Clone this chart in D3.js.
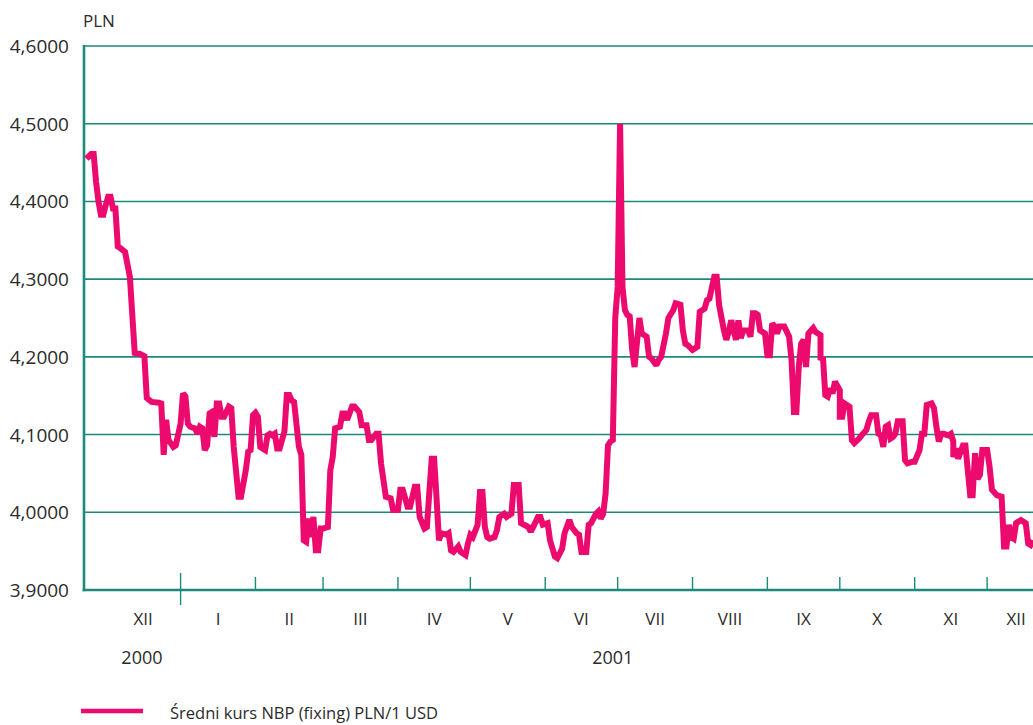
<!DOCTYPE html>
<html>
<head>
<meta charset="utf-8">
<script src="https://cdn.jsdelivr.net/npm/d3@7"></script>
<style>
  body { margin: 0; background: #fff; }
  text { font-family: "Open Sans", "Noto Sans", sans-serif; fill: #2b2b2b; }
</style>
</head>
<body>
<svg id="chart" width="1033" height="725"></svg>
<script>

// days relative to 1 Jan 2001 (negative = XI/XII 2000)
var days = [
 -39,-37,-36,-35,-34,-33,-32,-31,-30,-29,-28,-27,-26,-25,-23,-21,-19,-17,-15,-14,
 -12,-9,-8,-7,-6,-5,-3,-2,0,1,2,3,4,6,7,8,9,10,11,12,
 13,14,15,16,17,18,20,21,22,24,25,27,28,29,30,31,32,33,35,36,
 37,38,39,40,41,43,44,45,46,47,49,50,51,52,53,54,55,56,57,58,
 59,61,62,63,64,66,67,68,69,71,72,74,75,77,78,79,81,82,83,85,
 87,88,90,91,92,94,95,97,98,99,101,102,104,105,106,107,108,110,111,112,
 113,115,116,118,119,120,121,123,124,125,126,127,128,130,131,132,134,135,137,138,
 140,141,144,145,146,148,149,150,152,153,155,156,158,159,161,162,164,165,166,168,
 169,170,172,173,174,175,176,177,178,179,180,181,182,183,184,185,186,187,188,190,
 191,193,194,195,197,198,199,201,202,204,205,207,208,209,210,212,214,215,217,218,
 219,221,222,223,225,226,227,228,230,231,232,233,235,236,237,238,239,240,242,243,
 244,245,246,247,248,250,252,253,254,255,256,257,258,259,260,262,263,265,265,266,
 267,268,269,270,271,273,273,274,275,277,278,279,281,282,284,285,286,288,289,290,
 291,292,293,294,295,296,297,299,300,301,303,304,306,307,308,309,311,312,313,314,
 315,316,318,319,320,320,321,322,324,325,327,328,329,330,331,332,334,335,336,338,
 340,341,342,343,344,345,346,348,350,351,352,353
];

// Średni kurs NBP (fixing) PLN/1 USD
var rate = [
 4.455,4.461,4.461,4.425,4.400,4.383,4.383,4.395,4.406,4.406,4.391,4.391,4.342,4.340,4.335,4.303,4.205,4.204,4.201,4.147,
 4.142,4.141,4.140,4.074,4.119,4.093,4.084,4.086,4.114,4.153,4.149,4.114,4.110,4.108,4.101,4.110,4.108,4.080,4.086,4.127,
 4.129,4.097,4.140,4.140,4.123,4.123,4.136,4.134,4.084,4.020,4.020,4.054,4.078,4.080,4.125,4.128,4.123,4.084,4.080,4.099,
 4.101,4.099,4.101,4.082,4.082,4.104,4.151,4.151,4.144,4.142,4.084,4.074,3.964,3.962,3.992,3.968,3.994,3.951,3.951,3.979,
 3.979,3.981,4.054,4.071,4.108,4.110,4.127,4.127,4.119,4.136,4.136,4.129,4.112,4.112,4.093,4.093,4.101,4.101,4.063,4.020,
 4.018,4.003,4.003,4.029,4.029,4.007,4.007,4.033,4.033,3.994,3.979,3.981,4.069,4.069,4.018,3.964,3.973,3.971,3.973,3.951,
 3.949,3.956,3.949,3.945,3.960,3.971,3.968,3.984,4.026,4.026,3.981,3.968,3.966,3.968,3.977,3.994,3.998,3.994,3.998,4.035,
 4.035,3.986,3.981,3.975,3.981,3.994,3.994,3.984,3.986,3.964,3.943,3.941,3.953,3.973,3.990,3.981,3.973,3.971,3.949,3.949,
 3.984,3.986,3.998,4.001,3.992,3.998,4.024,4.086,4.091,4.093,4.250,4.290,4.500,4.290,4.260,4.254,4.252,4.209,4.187,4.250,
 4.230,4.226,4.200,4.198,4.189,4.196,4.200,4.230,4.250,4.260,4.269,4.267,4.234,4.217,4.215,4.209,4.213,4.258,4.262,4.273,
 4.275,4.303,4.303,4.267,4.234,4.222,4.232,4.247,4.222,4.247,4.224,4.234,4.234,4.226,4.256,4.256,4.254,4.234,4.230,4.202,
 4.202,4.243,4.239,4.230,4.239,4.239,4.226,4.196,4.129,4.129,4.187,4.217,4.222,4.187,4.230,4.237,4.232,4.228,4.196,4.200,
 4.151,4.149,4.159,4.153,4.168,4.157,4.123,4.123,4.140,4.136,4.093,4.089,4.095,4.099,4.106,4.117,4.125,4.125,4.101,4.099,
 4.084,4.110,4.112,4.095,4.097,4.101,4.117,4.117,4.067,4.063,4.065,4.065,4.080,4.101,4.101,4.138,4.140,4.134,4.110,4.091,
 4.101,4.101,4.099,4.101,4.091,4.071,4.082,4.069,4.086,4.086,4.022,4.022,4.076,4.043,4.048,4.080,4.080,4.059,4.029,4.022,
 4.020,3.956,3.956,3.984,3.968,3.966,3.986,3.990,3.986,3.960,3.958,3.964
];

var yTicks = [3.9, 4.0, 4.1, 4.2, 4.3, 4.4, 4.5, 4.6];
var monthLabels = ["XII","I","II","III","IV","V","VI","VII","VIII","IX","X","XI","XII"];
var monthStarts = ["2000-12-01","2001-01-01","2001-02-01","2001-03-01","2001-04-01","2001-05-01","2001-06-01",
                   "2001-07-01","2001-08-01","2001-09-01","2001-10-01","2001-11-01","2001-12-01","2002-01-01"];
var yearLabels = ["2000", "2001"];
var yearAt = ["2000-12-16", "2001-06-29"];
var seriesName = "Średni kurs NBP (fixing) PLN/1 USD";

var parse = d3.timeParse("%Y-%m-%d");
var base = new Date(2001, 0, 1);
var data = days.map(function(d, i) { return { date: d3.timeDay.offset(base, d), v: rate[i] }; });

var svg = d3.select("#chart");
var plotL = 84, plotR = 1033, plotT = 46, plotB = 590;

var x = d3.scaleTime()
  .domain([new Date(2000, 10, 22), new Date(2001, 11, 20)])
  .range([plotL, plotR]);
var y = d3.scaleLinear().domain([3.9, 4.6]).range([plotB, plotT]);

var teal = "#1b8a7b";

// gridlines
svg.append("g")
  .selectAll("line")
  .data(yTicks.slice(1))
  .join("line")
  .attr("x1", plotL).attr("x2", plotR)
  .attr("y1", d => y(d)).attr("y2", d => y(d))
  .attr("stroke", teal)
  .attr("stroke-width", 1.6);

// y tick labels
svg.append("g")
  .selectAll("text")
  .data(yTicks)
  .join("text")
  .attr("x", 69)
  .attr("y", d => y(d))
  .attr("text-anchor", "end")
  .attr("dominant-baseline", "central")
  .style("font-size", "19px")
  .text(d => d3.format(".4f")(d).replace(".", ","));

svg.append("text")
  .attr("x", 83).attr("y", 20)
  .attr("dominant-baseline", "central")
  .style("font-size", "17px")
  .text("PLN");

// month ticks
var starts = monthStarts.map(parse);
svg.append("g")
  .selectAll("line")
  .data(starts.slice(1, 13))
  .join("line")
  .attr("x1", d => x(d)).attr("x2", d => x(d))
  .attr("y1", d => d.getMonth() === 0 ? 573 : 577)
  .attr("y2", d => d.getMonth() === 0 ? 605 : plotB)
  .attr("stroke", teal)
  .attr("stroke-width", 1.4);

// month labels, centred in each month (last one inside the cut-off December)
svg.append("g")
  .selectAll("text")
  .data(monthLabels)
  .join("text")
  .attr("x", (d, i) => i === monthLabels.length - 1
      ? x(d3.timeDay.offset(starts[i], 12))
      : (x(starts[i]) + x(starts[i + 1])) / 2)
  .attr("y", 618)
  .attr("text-anchor", "middle")
  .attr("dominant-baseline", "central")
  .style("font-size", "17px")
  .text(d => d);

svg.append("g")
  .selectAll("text")
  .data(yearLabels)
  .join("text")
  .attr("x", (d, i) => x(parse(yearAt[i])))
  .attr("y", 657)
  .attr("text-anchor", "middle")
  .attr("dominant-baseline", "central")
  .style("font-size", "18px")
  .text(d => d);

// axis lines
svg.append("line")
  .attr("x1", plotL).attr("x2", plotL).attr("y1", plotT - 1).attr("y2", plotB + 1.3)
  .attr("stroke", teal).attr("stroke-width", 2.6);
svg.append("line")
  .attr("x1", plotL - 1.3).attr("x2", plotR).attr("y1", plotB).attr("y2", plotB)
  .attr("stroke", teal).attr("stroke-width", 2.6);

// the series
var line = d3.line()
  .x(d => x(d.date))
  .y(d => y(d.v));

svg.append("path")
  .datum(data)
  .attr("d", line)
  .attr("fill", "none")
  .attr("stroke", "#ec0a6e")
  .attr("stroke-width", 6)
  .attr("stroke-linejoin", "miter")
  .attr("stroke-miterlimit", 2);

// legend
svg.append("line")
  .attr("x1", 81).attr("x2", 143).attr("y1", 711).attr("y2", 711)
  .attr("stroke", "#ec0a6e").attr("stroke-width", 4.5);
svg.append("text")
  .attr("x", 170).attr("y", 712)
  .attr("dominant-baseline", "central")
  .style("font-size", "16.5px")
  .text(seriesName);

</script>
</body>
</html>
